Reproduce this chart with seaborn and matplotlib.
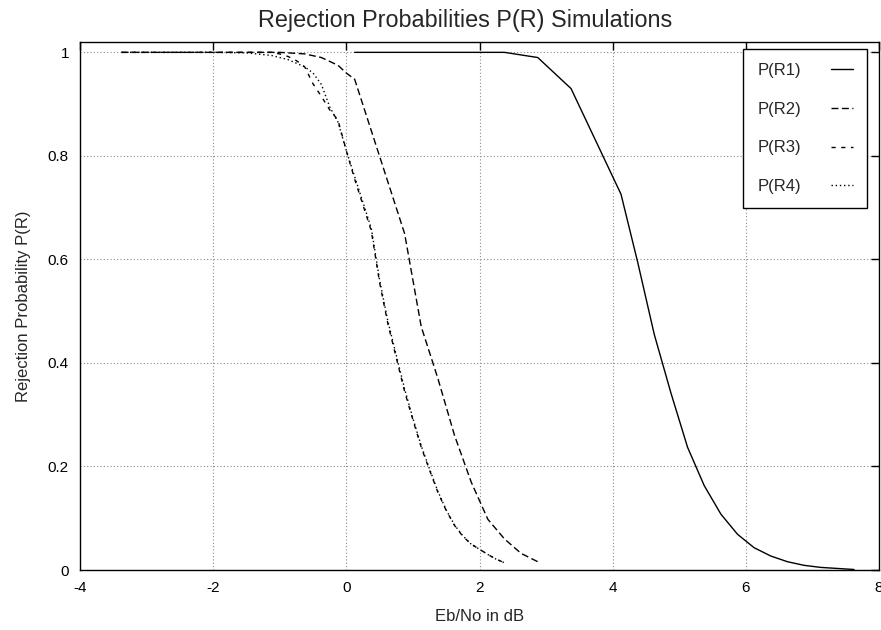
import matplotlib
matplotlib.use("Agg")
import matplotlib.pyplot as plt
import seaborn as sns
import pandas as pd

# ---- data ----
x_r1 = [0.125, 0.625, 1.125, 1.625, 2.125, 2.375, 2.875, 3.375, 4.125, 4.375, 4.625,
        4.875, 5.125, 5.375, 5.625, 5.875, 6.125, 6.375, 6.625, 6.875, 7.125, 7.375, 7.625]
y_r1 = [1.0, 1.0, 1.0, 1.0, 1.0, 1.0, 0.99, 0.93, 0.726, 0.595, 0.455,
        0.342, 0.237, 0.163, 0.108, 0.069, 0.043, 0.027, 0.016, 0.009, 0.005, 0.003, 0.001]

x_r2 = [-3.375, -2.0, -1.0, -0.625, -0.375, -0.125, 0.0, 0.125, 0.875, 1.125, 1.375,
        1.625, 1.875, 2.125, 2.375, 2.625, 2.875]
y_r2 = [1.0, 1.0, 1.0, 0.997, 0.99, 0.975, 0.96, 0.948, 0.65, 0.47, 0.37,
        0.26, 0.17, 0.098, 0.06, 0.032, 0.016]

x_r3 = [-3.375, -2.0, -1.125, -1.0, -0.875, -0.75, -0.625, -0.5, -0.375, -0.25, -0.125,
        0.0, 0.125, 0.375, 0.5, 0.625, 0.75, 0.875, 1.0, 1.125, 1.25, 1.375, 1.5,
        1.625, 1.75, 1.875, 2.0, 2.125, 2.25, 2.375]
y_r3 = [1.0, 1.0, 1.0, 0.997, 0.992, 0.984, 0.972, 0.939, 0.915, 0.889, 0.869,
        0.81, 0.755, 0.655, 0.555, 0.475, 0.41, 0.345, 0.29, 0.237, 0.193, 0.15, 0.115,
        0.086, 0.065, 0.05, 0.04, 0.03, 0.021, 0.014]

x_r4 = [-3.375, -2.0, -1.5, -1.125, -0.875, -0.625, -0.5, -0.375, -0.25, -0.125,
        0.0, 0.125, 0.375, 0.5, 0.625, 0.75, 0.875, 1.0, 1.125, 1.25, 1.375, 1.5,
        1.625, 1.75, 1.875, 2.0, 2.125, 2.25, 2.375]
y_r4 = [1.0, 1.0, 0.999, 0.994, 0.986, 0.972, 0.96, 0.938, 0.895, 0.865,
        0.81, 0.76, 0.66, 0.56, 0.48, 0.415, 0.35, 0.293, 0.24, 0.195, 0.152, 0.116,
        0.087, 0.066, 0.05, 0.04, 0.03, 0.021, 0.014]

labels = ["P(R1)", "P(R2)", "P(R3)", "P(R4)"]
x_ticks = [-4, -2, 0, 2, 4, 6, 8]
y_ticks = [0, 0.2, 0.4, 0.6, 0.8, 1]
y_tick_labels = ["0", "0.2", "0.4", "0.6", "0.8", "1"]

sns.set_style("white")
plt.rcParams["font.family"] = ["Liberation Sans", "DejaVu Sans"]

fig = plt.figure(figsize=(8.81, 6.30), dpi=100)
ax = fig.add_axes([80 / 881, 1 - 570 / 630, (879 - 80) / 881, (570 - 42) / 630])

styles = ["-", (0, (5, 2.5)), (0, (3, 4)), (0, (1, 2))]
series = [(x_r1, y_r1), (x_r2, y_r2), (x_r3, y_r3), (x_r4, y_r4)]
for (xs, ys), lab, ls in zip(series, labels, styles):
    df = pd.DataFrame({"x": xs, "y": ys})
    sns.lineplot(data=df, x="x", y="y", ax=ax, color="black", linewidth=1.0,
                 linestyle=ls, label=lab, sort=False, estimator=None, legend=True)

ax.set_xlim(-4, 8)
ax.set_ylim(0, 1.02)
ax.set_xticks(x_ticks)
ax.set_xticklabels([str(t) for t in x_ticks])
ax.set_yticks(y_ticks)
ax.set_yticklabels(y_tick_labels)
ax.tick_params(direction="in", length=6, width=1, top=True, right=True,
               labelsize=11, colors="black", pad=8)
ax.grid(True, color="#8c8c8c", linestyle=(0, (1, 2)), linewidth=0.8)
for s in ax.spines.values():
    s.set_color("black")
    s.set_linewidth(1.0)

ax.set_xlabel("Eb/No in dB", fontsize=12, labelpad=10)
ax.set_ylabel("Rejection Probability P(R)", fontsize=12, labelpad=12)
fig.suptitle("Rejection Probabilities P(R) Simulations", fontsize=16.8,
             x=465 / 881, y=1 - 20 / 630, va="center")

leg = ax.legend(loc="upper left", bbox_to_anchor=((743 - 80) / 799, 1 - 7 / 528),
                frameon=True, fancybox=False, shadow=False, fontsize=12,
                markerfirst=False, handlelength=1.3, handletextpad=1.8,
                labelspacing=1.42, borderpad=0.85, borderaxespad=0.0)
leg.get_frame().set_edgecolor("black")
leg.get_frame().set_linewidth(1.0)
leg.get_frame().set_facecolor("white")
leg.get_frame().set_alpha(1.0)

fig.savefig("out.png", dpi=100)
